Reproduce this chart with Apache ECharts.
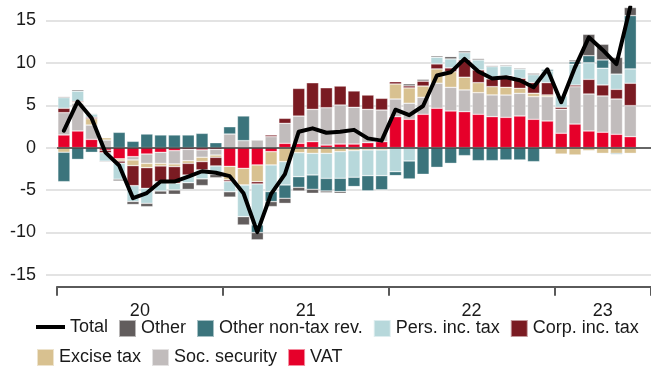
<!DOCTYPE html>
<html>
<head>
<meta charset="utf-8">
<script src="https://cdn.jsdelivr.net/npm/echarts@6/dist/echarts.min.js"></script>
<style>
  html, body { margin: 0; padding: 0; background: #ffffff; }
  #chart { width: 651px; height: 367px; }
</style>
</head>
<body>
<div id="chart"></div>
<script>
// Monthly contributions to revenue growth (pp), Jan 2020 – Jun 2023 (+ one empty slot)
const months = [
  'Jan 20','Feb 20','Mar 20','Apr 20','May 20','Jun 20','Jul 20','Aug 20','Sep 20','Oct 20','Nov 20','Dec 20',
  'Jan 21','Feb 21','Mar 21','Apr 21','May 21','Jun 21','Jul 21','Aug 21','Sep 21','Oct 21','Nov 21','Dec 21',
  'Jan 22','Feb 22','Mar 22','Apr 22','May 22','Jun 22','Jul 22','Aug 22','Sep 22','Oct 22','Nov 22','Dec 22',
  'Jan 23','Feb 23','Mar 23','Apr 23','May 23','Jun 23','Jul 23'
];

const vat = [
  1.5, 1.97, 0.98, -0.3, -1.33, -1.06, -0.75, -0.55, -0.35, -0.2, -0.27, -0.2,
  -2.2, -2.44, -2.04, -0.47, 0.51, 0.51, 0.71, 0.31, 0.43, 0.43, 0.59, 0.71,
  3.66, 3.35, 3.94, 4.65, 4.33, 4.25, 3.94, 3.66, 3.58, 3.74, 3.35, 3.15,
  1.7, 2.79, 1.97, 1.82, 1.58, 1.3, null
];
const socSecurity = [
  2.63, 3.26, 1.69, 0.9, 0, -0.39, -1.1, -1.3, -1.57, -1.34, -0.86, -0.67,
  1.61, 0.83, 0.9, 1.3, 2.36, 3.22, 3.81, 4.4, 4.6, 4.33, 3.93, 3.73,
  2.08, 1.89, 2.0, 2.95, 2.79, 2.56, 2.55, 2.56, 2.63, 2.67, 2.67, 2.87,
  2.83, 4.4, 4.36, 4.28, 4.16, 3.66, null
];
const excise = [
  -0.54, 0.12, 0.75, 0.27, -0.25, -0.67, -0.51, -0.31, -0.31, -0.31, -0.51, -0.27,
  -1.6, -1.97, -1.97, -1.57, -1.65, -0.59, -0.67, -0.67, -0.47, -0.35, -0.27, -0.27,
  1.77, 1.81, 1.33, 1.69, 1.84, 1.5, 1.18, 0.98, 0.91, 0.59, 0.4, 0.2,
  -0.75, -0.86, -0.35, -0.67, -0.67, -0.67, null
];
const corpIncTax = [
  0.52, 0.12, 0.16, -0.3, -0.25, -2.36, -2.44, -1.85, -1.97, -1.38, -0.98, -1.02,
  -0.2, 0, -0.27, 0.2, 0.59, 3.26, 3.14, 2.36, 2.24, 1.93, 1.69, 1.38,
  0.27, 0.24, 0.59, 0.59, 0.45, 2.04, 1.5, 0.91, 1.37, 1.18, 1.25, 1.45,
  0.24, 0.2, 1.73, 1.3, 1.14, 2.64, null
];
const persIncTax = [
  1.25, 1.2, 0.39, -1.0, -1.89, -1.87, -1.77, -1.1, -0.79, -0.9, -1.06, -1.0,
  -1.2, -3.73, -4.83, -3.14, -2.75, -2.83, -2.55, -2.95, -3.14, -3.14, -3.03, -3.03,
  -2.83, -1.57, 0, 0.79, 1.06, 0.86, 1.18, 1.45, 1.14, 1.1, 0.94, 1.38,
  1.35, 2.45, 1.96, 1.97, 1.8, 1.69, null
];
const otherNonTax = [
  -3.47, -1.38, -0.55, 0, 1.81, 0.75, 1.61, 1.5, 1.5, 1.5, 1.69, 0.59,
  0.86, 2.91, -0.9, -1.18, -1.57, -1.26, -1.69, -1.49, -1.57, -1.1, -1.81, -1.69,
  -0.47, -2.12, -3.14, -2.32, -1.85, -0.94, -1.53, -1.53, -1.45, -1.45, -1.65, 0.2,
  0, 0.3, 0.83, 0.98, -0.12, 6.29, null
];
const other = [
  0.12, 0.16, 0.08, -0.1, -0.2, -0.35, -0.39, -0.39, -0.51, -0.79, -0.79, -0.39,
  -0.63, -0.98, -0.86, -0.59, -0.6, -0.43, -0.47, -0.2, -0.2, 0, 0, 0,
  0, 0.24, 0.2, 0.16, 0.27, 0.2, 0.16, 0.12, 0.12, 0.12, 0.16, 0,
  0, 0.2, 2.52, 1.85, 1.97, 1.7, null
];
const total = [
  2.0, 5.45, 3.5, -0.55, -2.11, -5.95, -5.35, -4.0, -4.0, -3.42, -2.78, -2.96,
  -3.36, -5.38, -9.97, -5.45, -3.11, 1.88, 2.28, 1.76, 1.89, 2.1, 1.1, 0.83,
  4.48, 3.84, 4.92, 8.51, 8.89, 10.47, 8.98, 8.15, 8.3, 7.95, 7.12, 9.25,
  5.37, 9.48, 13.02, 11.53, 9.86, 16.6, null
];

// Axis labels
const yTicks = [-15, -10, -5, 0, 5, 10, 15];
const yearLabels = ['20', '21', '22', '23'];
const yearLabelPos = [6, 18, 30, 39.5];   // position in months from the start
const yMin = -16.4, yMax = 16.5;

const FONT = "'Liberation Sans', Arial, Helvetica, sans-serif";
const colors = {
  vat: '#e6002a',
  soc: '#c1bcbc',
  excise: '#d8c190',
  corp: '#7a1b22',
  pers: '#b7d8db',
  nonTax: '#3b747c',
  other: '#625d5d'
};

const barBase = {
  type: 'bar',
  stack: 'rev',
  xAxisIndex: 0,
  yAxisIndex: 1,
  barCategoryGap: '12%',
  itemStyle: { borderColor: 'rgba(255,255,255,0.55)', borderWidth: 0.6 },
  emphasis: { disabled: true }
};
function barSeries(name, data, color, extra) {
  return Object.assign({}, barBase, {
    name, data,
    itemStyle: Object.assign({}, barBase.itemStyle, { color })
  }, extra || {});
}

const legendText = { fontSize: 18, color: '#1a1a1a', fontFamily: FONT };

const chart = echarts.init(document.getElementById('chart'), null, { renderer: 'canvas' });

chart.setOption({
  animation: false,
  backgroundColor: '#ffffff',
  textStyle: { fontFamily: FONT },
  grid: [
    // grid 0: y labels and horizontal gridlines (reaches a little further left)
    { left: 46, right: 0, top: 7.8, height: 278.9 },
    // grid 1: the bars, total line and time axis
    { left: 57, right: 0, top: 7.8, height: 278.9 }
  ],
  xAxis: [
    {
      gridIndex: 1,
      type: 'category',
      data: months,
      boundaryGap: true,
      position: 'bottom',
      axisLine: { onZero: false, lineStyle: { color: '#5a5a5a', width: 2 } },
      axisTick: {
        show: true,
        interval: (i) => i % 12 === 0,
        length: 9,
        lineStyle: { color: '#5a5a5a', width: 2 }
      },
      axisLabel: { show: false },
      splitLine: { show: false }
    },
    {
      gridIndex: 1,
      type: 'value',
      min: 0,
      max: months.length,
      position: 'bottom',
      axisLine: { show: false },
      axisTick: { show: false },
      splitLine: { show: false },
      axisLabel: {
        customValues: yearLabelPos,
        formatter: (v) => {
          const k = yearLabelPos.indexOf(v);
          return k >= 0 ? yearLabels[k] : '';
        },
        margin: 15,
        fontSize: 18,
        color: '#1a1a1a',
        fontFamily: FONT
      }
    },
    { gridIndex: 0, type: 'value', min: 0, max: 1, show: false }
  ],
  yAxis: [
    {
      gridIndex: 0,
      type: 'value',
      min: yMin,
      max: yMax,
      axisLine: { show: false },
      axisTick: { show: false, customValues: yTicks },
      axisLabel: {
        customValues: yTicks,
        margin: 10,
        fontSize: 18,
        color: '#1a1a1a',
        fontFamily: FONT
      },
      splitLine: { show: true, lineStyle: { color: '#dadada', width: 1.5 } }
    },
    {
      gridIndex: 1,
      type: 'value',
      min: yMin,
      max: yMax,
      show: false,
      splitLine: { show: false }
    }
  ],
  legend: [
    {
      data: ['Total'],
      left: 36, top: 318,
      padding: 0,
      icon: 'rect',
      itemWidth: 29, itemHeight: 4,
      itemStyle: { color: '#000000' },
      textStyle: legendText,
      selectedMode: false
    },
    {
      data: ['Other', 'Other non-tax rev.', 'Pers. inc. tax', 'Corp. inc. tax'],
      left: 118, top: 319,
      padding: 0,
      icon: 'rect',
      itemWidth: 17, itemHeight: 17, itemGap: 10,
      textStyle: legendText,
      selectedMode: false
    },
    {
      data: ['Excise tax', 'Soc. security', 'VAT'],
      left: 36, top: 348,
      padding: 0,
      icon: 'rect',
      itemWidth: 17, itemHeight: 17, itemGap: 10,
      textStyle: legendText,
      selectedMode: false
    }
  ],
  series: [
    barSeries('VAT', vat, colors.vat, {
      markLine: {
        silent: true,
        symbol: 'none',
        label: { show: false },
        lineStyle: { color: '#3c3c3c', width: 1.6, type: 'solid' },
        data: [{ yAxis: 0 }],
        z: 6
      }
    }),
    barSeries('Soc. security', socSecurity, colors.soc),
    barSeries('Excise tax', excise, colors.excise),
    barSeries('Corp. inc. tax', corpIncTax, colors.corp),
    barSeries('Pers. inc. tax', persIncTax, colors.pers),
    barSeries('Other non-tax rev.', otherNonTax, colors.nonTax),
    barSeries('Other', other, colors.other),
    {
      name: 'Total',
      type: 'line',
      xAxisIndex: 0,
      yAxisIndex: 1,
      data: total,
      symbol: 'none',
      showSymbol: false,
      z: 10,
      lineStyle: { color: '#000000', width: 4, join: 'round', cap: 'round' },
      itemStyle: { color: '#000000' },
      emphasis: { disabled: true }
    }
  ]
});
</script>
</body>
</html>
